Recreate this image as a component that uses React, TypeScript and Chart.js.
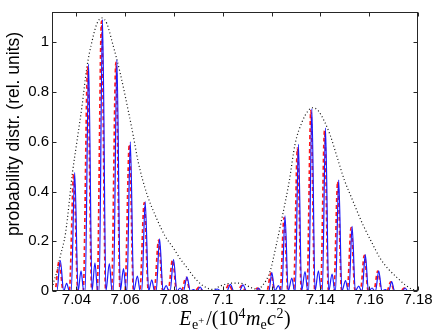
import React, { useEffect, useRef } from "react";
import { Chart, registerables } from "chart.js";

Chart.register(...registerables);

const xTicks = [7.04, 7.06, 7.08, 7.1, 7.12, 7.14, 7.16, 7.18];
const yTicks = [0, 0.2, 0.4, 0.6, 0.8, 1];
const xMin = 7.03;
const xMax = 7.18;
const yMax = 1.122;

const yTitle = "probability distr. (rel. units)";

// blue solid curve
const blueX = [
  7.03, 7.032, 7.0334, 7.0348, 7.036, 7.0371,
  7.0379, 7.0393, 7.0407, 7.0419, 7.043,
  7.0436, 7.045, 7.0464, 7.0476, 7.0487,
  7.0493, 7.0507, 7.0521, 7.0535, 7.0546,
  7.0552, 7.0566, 7.058, 7.0593, 7.0604,
  7.0607, 7.0621, 7.0635, 7.065, 7.0661,
  7.0668, 7.0682, 7.0696, 7.0709, 7.072,
  7.0727, 7.0741, 7.0755, 7.0768, 7.0779,
  7.0784, 7.0798, 7.0812, 7.0825, 7.0836,
  7.0839, 7.0853, 7.0867, 7.088, 7.089,
  7.0895, 7.0907, 7.0919,
  7.096, 7.0977, 7.0992, 7.1017, 7.1031, 7.1045, 7.1068, 7.1083, 7.1097,
  7.1136, 7.1146, 7.1157,
  7.1189, 7.1201, 7.1213, 7.1228, 7.1238,
  7.1242, 7.1255, 7.1268, 7.1283, 7.1294,
  7.1297, 7.131, 7.1323, 7.1337, 7.1348,
  7.1352, 7.1365, 7.1378, 7.1392, 7.1403,
  7.1408, 7.1421, 7.1434, 7.1448, 7.1459,
  7.1462, 7.1475, 7.1488, 7.1503, 7.1514,
  7.1517, 7.153, 7.1543, 7.1557, 7.1568,
  7.1571, 7.1584, 7.1597, 7.1612, 7.1622,
  7.1626, 7.1639, 7.1652, 7.1666, 7.1676,
  7.168, 7.1692, 7.1704,
  7.1736, 7.1747, 7.1758, 7.18,
];
const blueY = [
  0, 0, 0.122, 0, 0.031, 0,
  0, 0.477, 0, 0.081, 0,
  0, 0.913, 0, 0.113, 0,
  0, 1.092, 0, 0.11, 0,
  0, 0.93, 0, 0.09, 0,
  0, 0.6, 0, 0.06, 0,
  0, 0.36, 0, 0.045, 0,
  0, 0.21, 0, 0.022, 0,
  0, 0.126, 0, 0.012, 0,
  0, 0.057, 0, 0.006, 0,
  0, 0.016, 0,
  0, 0.008, 0, 0, 0.027, 0, 0, 0.025, 0,
  0, 0.012, 0,
  0, 0.074, 0, 0.022, 0,
  0, 0.302, 0, 0.052, 0,
  0, 0.59, 0, 0.078, 0,
  0, 0.733, 0, 0.081, 0,
  0, 0.655, 0, 0.068, 0,
  0, 0.447, 0, 0.042, 0,
  0, 0.26, 0, 0.02, 0,
  0, 0.146, 0, 0.012, 0,
  0, 0.081, 0, 0.006, 0,
  0, 0.038, 0,
  0, 0.012, 0, 0,
];

// red dashed curve
const redX = [
  7.03, 7.0312, 7.0329, 7.0346,
  7.0371, 7.0389, 7.0406,
  7.0428, 7.0446, 7.0463,
  7.0485, 7.0503, 7.052,
  7.0544, 7.0562, 7.0579,
  7.0599, 7.0617, 7.0634,
  7.066, 7.0678, 7.0695,
  7.0719, 7.0737, 7.0754,
  7.0776, 7.0794, 7.0811,
  7.0831, 7.0849, 7.0866,
  7.0886, 7.0903, 7.0919,
  7.1008, 7.1025, 7.1042, 7.106, 7.1077, 7.1094,
  7.1128, 7.1142, 7.1156,
  7.1181, 7.1197, 7.1213,
  7.1235, 7.1251, 7.1267,
  7.129, 7.1306, 7.1322,
  7.1345, 7.1361, 7.1377,
  7.1401, 7.1417, 7.1433,
  7.1455, 7.1471, 7.1487,
  7.151, 7.1526, 7.1542,
  7.1564, 7.158, 7.1596,
  7.1619, 7.1635, 7.1651,
  7.1673, 7.1688, 7.1703,
  7.1729, 7.1743, 7.1757, 7.18,
];
const redY = [
  0, 0, 0.12, 0,
  0, 0.47, 0,
  0, 0.9, 0,
  0, 1.085, 0,
  0, 0.92, 0,
  0, 0.59, 0,
  0, 0.355, 0,
  0, 0.205, 0,
  0, 0.125, 0,
  0, 0.055, 0,
  0, 0.016, 0,
  0, 0.027, 0, 0, 0.022, 0,
  0, 0.012, 0,
  0, 0.072, 0,
  0, 0.295, 0,
  0, 0.575, 0,
  0, 0.725, 0,
  0, 0.645, 0,
  0, 0.44, 0,
  0, 0.255, 0,
  0, 0.143, 0,
  0, 0.08, 0,
  0, 0.037, 0,
  0, 0.012, 0, 0,
];

// black dotted envelope
const envX = [
  7.0301, 7.0308, 7.0318, 7.0334, 7.0356, 7.0384, 7.0402, 7.0423, 7.0443,
  7.0464, 7.0484, 7.0505, 7.0525, 7.0546, 7.058, 7.0614, 7.0634, 7.0653,
  7.0689, 7.073, 7.0764, 7.0798, 7.0825, 7.0853, 7.0879, 7.0907, 7.0936,
  7.0961, 7.0989, 7.1022, 7.1055, 7.1087, 7.1112, 7.1137, 7.1161, 7.1194,
  7.1218, 7.1244, 7.1272, 7.1296, 7.1325, 7.135, 7.137, 7.1391, 7.1415,
  7.144, 7.1468, 7.1498, 7.1534, 7.1576, 7.1608, 7.1644, 7.1677, 7.1713,
  7.1747, 7.1774, 7.18,
];
const envY = [
  0.01, 0.04, 0.07, 0.14, 0.236, 0.477, 0.6, 0.744, 0.9,
  1.004, 1.075, 1.098, 1.075, 1.004, 0.874, 0.718, 0.62, 0.52,
  0.39, 0.289, 0.22, 0.172, 0.13, 0.094, 0.06, 0.03, 0.012,
  0.006, 0.02, 0.03, 0.032, 0.028, 0.015, 0.008, 0.02, 0.08,
  0.18, 0.3, 0.44, 0.59, 0.68, 0.725, 0.737, 0.725, 0.685,
  0.627, 0.54, 0.447, 0.36, 0.263, 0.2, 0.133, 0.09, 0.055,
  0.025, 0.008, 0.003,
];

const toPts = (xs: number[], ys: number[]) => xs.map((x, i) => ({ x, y: ys[i] }));

const AXIS = "#262626";
const SANS = '"Liberation Sans", Arial, Helvetica, sans-serif';

const framePlugin = {
  id: "frame",
  afterDatasetsDraw(chart: any) {
    const { ctx, chartArea: a, scales } = chart;
    ctx.save();
    ctx.strokeStyle = AXIS;
    ctx.lineWidth = 1;
    const L = Math.round(a.left) + 0.5;
    const R = Math.round(a.right) - 0.5;
    const T = Math.round(a.top) + 0.5;
    const B = Math.round(a.bottom) - 0.5;
    ctx.strokeRect(L, T, R - L, B - T);
    const tl = 4;
    ctx.beginPath();
    xTicks.forEach((v) => {
      const p = Math.round(scales.x.getPixelForValue(v)) + 0.5;
      ctx.moveTo(p, B);
      ctx.lineTo(p, B - tl);
      ctx.moveTo(p, T);
      ctx.lineTo(p, T + tl);
    });
    yTicks.forEach((v) => {
      const p = Math.round(scales.y.getPixelForValue(v)) + 0.5;
      ctx.moveTo(L, p);
      ctx.lineTo(L + tl, p);
      ctx.moveTo(R, p);
      ctx.lineTo(R - tl, p);
    });
    ctx.stroke();
    ctx.restore();
  },
  afterDraw(chart: any) {
    const { ctx, chartArea: a } = chart;
    ctx.save();
    ctx.fillStyle = "#000";
    // y title
    ctx.translate(14, 134);
    ctx.rotate(-Math.PI / 2);
    ctx.font = `17.5px ${SANS}`;
    ctx.textAlign = "center";
    ctx.textBaseline = "middle";
    ctx.fillText(yTitle, 0, 0);
    ctx.restore();

    // x title: E_{e+}/(10^4 m_e c^2)
    ctx.save();
    ctx.fillStyle = "#000";
    ctx.textBaseline = "alphabetic";
    ctx.textAlign = "left";
    const big = 20;
    const sm = 14;
    const tiny = 10.5;
    const fam = '"Liberation Serif", "Times New Roman", serif';
    const parts: [string, string, number, number][] = [
      ["E", `italic ${big}px ${fam}`, 0, 0.5],
      ["e", `${sm}px ${fam}`, 4, 0],
      ["+", `${tiny}px ${fam}`, -1, 2],
      ["/(10", `${big}px ${fam}`, 0, 0],
      ["4", `${sm}px ${fam}`, -7.5, 0.5],
      ["m", `italic ${big}px ${fam}`, 0, 0],
      ["e", `${sm}px ${fam}`, 4, 0.5],
      ["c", `italic ${big}px ${fam}`, 0, 0.5],
      ["2", `${sm}px ${fam}`, -7.5, 0.5],
      [")", `${big}px ${fam}`, 0, 0],
    ];
    let total = 0;
    const widths = parts.map(([t, f, , gap]) => {
      ctx.font = f;
      const w = ctx.measureText(t).width + gap;
      total += w;
      return w;
    });
    let x = (a.left + a.right) / 2 - total / 2;
    const base = 325;
    parts.forEach(([t, f, dy], i) => {
      ctx.font = f;
      ctx.fillText(t, x, base + dy);
      x += widths[i];
    });
    ctx.restore();
  },
};

export default function App() {
  const ref = useRef<HTMLCanvasElement | null>(null);
  useEffect(() => {
    if (!ref.current) return;
    const chart = new Chart(ref.current, {
      type: "line",
      data: {
        datasets: [
          {
            data: toPts(blueX, blueY),
            borderColor: "#1a1aff",
            borderWidth: 1.2,
            pointRadius: 0,
            cubicInterpolationMode: "monotone",
            fill: false,
            order: 0,
          },
          {
            data: toPts(redX, redY),
            borderColor: "rgba(255,0,0,0.9)",
            borderWidth: 1.7,
            borderDash: [4, 3],
            pointRadius: 0,
            cubicInterpolationMode: "monotone",
            fill: false,
            order: 1,
          },
          {
            data: toPts(envX, envY),
            borderColor: "#111111",
            borderWidth: 1.2,
            borderDash: [1, 2.5],
            pointRadius: 0,
            cubicInterpolationMode: "monotone",
            fill: false,
            order: 2,
          },
        ],
      },
      options: {
        animation: false,
        responsive: false,
        devicePixelRatio: 1,
        parsing: false as any,
        layout: { padding: { top: 3, right: 18, left: 0, bottom: 0 } },
        plugins: { legend: { display: false }, tooltip: { enabled: false } },
        scales: {
          x: {
            type: "linear",
            min: xMin,
            max: xMax,
            grid: { display: false, drawTicks: false },
            border: { display: false },
            afterBuildTicks: (s: any) => {
              s.ticks = xTicks.map((v) => ({ value: v }));
            },
            afterFit: (s: any) => {
              s.height = 41;
            },
            ticks: {
              autoSkip: false,
              maxRotation: 0,
              padding: 0,
              color: "#000",
              font: { family: SANS, size: 15 },
              callback: (v: any) => String(Number(Number(v).toFixed(2))),
            },
          },
          y: {
            type: "linear",
            min: 0,
            max: yMax,
            grid: { display: false, drawTicks: false },
            border: { display: false },
            afterBuildTicks: (s: any) => {
              s.ticks = yTicks.map((v) => ({ value: v }));
            },
            afterFit: (s: any) => {
              s.width = 52;
            },
            ticks: {
              padding: 3,
              color: "#000",
              font: { family: SANS, size: 15 },
              callback: (v: any) => String(Number(Number(v).toFixed(1))),
            },
          },
        },
      },
      plugins: [framePlugin],
    });
    return () => chart.destroy();
  }, []);
  return (
    <div style={{ position: "fixed", left: 0, top: 0, width: 436, height: 332, background: "#fff" }}>
      <canvas ref={ref} width={436} height={332} style={{ width: 436, height: 332, display: "block" }} />
    </div>
  );
}
